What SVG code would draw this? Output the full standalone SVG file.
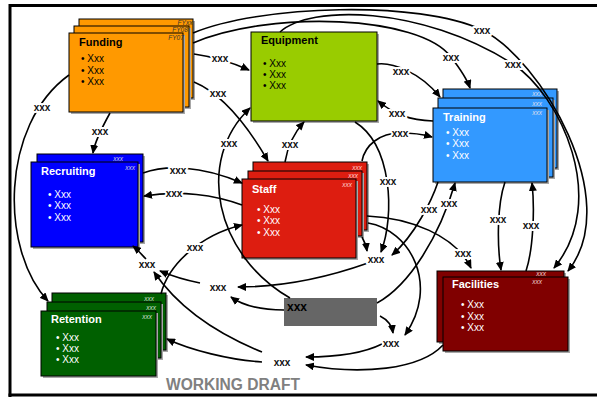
<svg xmlns="http://www.w3.org/2000/svg" width="597" height="398" viewBox="0 0 597 398">
<defs>
<marker id="ah" markerWidth="9" markerHeight="8" refX="8" refY="4" orient="auto" markerUnits="userSpaceOnUse"><path d="M0,0 L9,4 L0,8 z" fill="#000"/></marker>
<style>
.sh{fill:#a8a8a8}
.bx{stroke:#000;stroke-width:1}
.c{fill:none;stroke:#000;stroke-width:1.6;marker-end:url(#ah)}
.lb{font-family:"Liberation Sans",Arial,sans-serif;font-size:10px;font-weight:bold;fill:#111;text-anchor:middle;stroke:#fff;stroke-width:4;paint-order:stroke;stroke-linejoin:round}
.t{font-family:"Liberation Sans",Arial,sans-serif;font-size:11px;font-weight:bold}
.b{font-family:"Liberation Sans",Arial,sans-serif;font-size:10px}
.s{font-family:"Liberation Sans",Arial,sans-serif;font-size:6.5px;font-style:italic;text-anchor:middle}
.w{fill:#fff}
.k{fill:#000}
</style>
</defs>
<rect width="597" height="398" fill="#fff"/>
<g id="frame" fill="none" stroke="#000" stroke-width="3">
<path d="M10,397 V5.5 H597"/>
<path d="M8.5,395 H597"/>
</g>

<g id="funding">
<rect class="sh" x="81" y="21" width="114" height="79"/>
<rect class="bx" x="79" y="19" width="114" height="79" fill="#FF9900"/>
<rect class="sh" x="76" y="28" width="115" height="81"/>
<rect class="bx" x="74" y="26" width="115" height="81" fill="#FF9900"/>
<rect class="sh" x="71" y="35" width="114" height="79"/>
<rect class="bx" x="69" y="33" width="114" height="79" fill="#FF9900"/>
<text class="s" x="185" y="25" fill="#333">FYxx</text>
<text class="s" x="180" y="32" fill="#333">FY08</text>
<text class="s" x="176" y="40" fill="#333">FY07</text>
<text class="t k" x="79" y="46">Funding</text>
<text class="b k" x="81" y="62">• Xxx</text>
<text class="b k" x="81" y="74">• Xxx</text>
<text class="b k" x="81" y="85">• Xxx</text>
</g>

<g id="equipment">
<rect class="sh" x="253" y="34" width="126" height="89"/>
<rect class="bx" x="251" y="32" width="126" height="89" fill="#99CC00"/>
<text class="t k" x="261" y="44">Equipment</text>
<text class="b k" x="263" y="67">• Xxx</text>
<text class="b k" x="263" y="78">• Xxx</text>
<text class="b k" x="263" y="89">• Xxx</text>
</g>

<g id="training">
<rect class="sh" x="445" y="91" width="114" height="79"/>
<rect class="bx" x="443" y="89" width="114" height="79" fill="#3399FF"/>
<rect class="sh" x="440" y="100" width="115" height="79"/>
<rect class="bx" x="438" y="98" width="115" height="79" fill="#3399FF"/>
<rect class="sh" x="435" y="110" width="114" height="74"/>
<rect class="bx" x="433" y="108" width="114" height="74" fill="#3399FF"/>
<text class="s" x="537" y="96" fill="#dde">xxx</text>
<text class="s" x="537" y="106" fill="#dde">xxx</text>
<text class="s" x="537" y="115" fill="#dde">xxx</text>
<text class="t w" x="443" y="121">Training</text>
<text class="b w" x="446" y="136">• Xxx</text>
<text class="b w" x="446" y="147">• Xxx</text>
<text class="b w" x="446" y="159">• Xxx</text>
</g>

<g id="recruiting">
<rect class="sh" x="39" y="156" width="106" height="88"/>
<rect class="bx" x="37" y="154" width="106" height="88" fill="#0000FF"/>
<rect class="sh" x="33" y="164" width="107" height="85"/>
<rect class="bx" x="31" y="162" width="107" height="85" fill="#0000FF"/>
<text class="s" x="118" y="161" fill="#ccd">xxx</text>
<text class="s" x="130" y="170" fill="#ccd">xxx</text>
<text class="t w" x="41" y="175">Recruiting</text>
<text class="b w" x="48" y="198">• Xxx</text>
<text class="b w" x="48" y="209">• Xxx</text>
<text class="b w" x="48" y="221">• Xxx</text>
</g>

<g id="staff">
<rect class="sh" x="255" y="164" width="114" height="68"/>
<rect class="bx" x="253" y="162" width="114" height="68" fill="#DD1D10"/>
<rect class="sh" x="250" y="173" width="114" height="65"/>
<rect class="bx" x="248" y="171" width="114" height="65" fill="#DD1D10"/>
<rect class="sh" x="244" y="181" width="114" height="79"/>
<rect class="bx" x="242" y="179" width="114" height="79" fill="#DD1D10"/>
<text class="s" x="357" y="170" fill="#fcc">xxx</text>
<text class="s" x="353" y="178" fill="#fcc">xxx</text>
<text class="s" x="347" y="187" fill="#fcc">xxx</text>
<text class="t w" x="252" y="193">Staff</text>
<text class="b w" x="257" y="213">• Xxx</text>
<text class="b w" x="257" y="224">• Xxx</text>
<text class="b w" x="257" y="236">• Xxx</text>
</g>

<g id="facilities">
<rect class="sh" x="439" y="273" width="127" height="71"/>
<rect class="bx" x="437" y="271" width="127" height="71" fill="#800000"/>
<rect class="sh" x="445" y="279" width="125" height="74"/>
<rect class="bx" x="443" y="277" width="125" height="74" fill="#800000"/>
<text class="s" x="541" y="276" fill="#ecc">xxx</text>
<text class="s" x="537" y="284" fill="#ecc">xxx</text>
<text class="t w" x="452" y="288">Facilities</text>
<text class="b w" x="461" y="308">• Xxx</text>
<text class="b w" x="461" y="320">• Xxx</text>
<text class="b w" x="461" y="331">• Xxx</text>
</g>

<g id="retention">
<rect class="sh" x="54" y="295" width="114" height="57"/>
<rect class="bx" x="52" y="293" width="114" height="57" fill="#006000"/>
<rect class="sh" x="49" y="304" width="114" height="56"/>
<rect class="bx" x="47" y="302" width="114" height="56" fill="#006000"/>
<rect class="sh" x="43" y="313" width="115" height="65"/>
<rect class="bx" x="41" y="311" width="115" height="65" fill="#006000"/>
<text class="s" x="149" y="301" fill="#cdc">xxx</text>
<text class="s" x="151" y="310" fill="#cdc">xxx</text>
<text class="s" x="147" y="319" fill="#cdc">xxx</text>
<text class="t w" x="51" y="323">Retention</text>
<text class="b w" x="56" y="341">• Xxx</text>
<text class="b w" x="56" y="352">• Xxx</text>
<text class="b w" x="56" y="363">• Xxx</text>
</g>

<g id="graybox">
<rect x="284" y="298" width="93" height="28" fill="#666666"/>
<text x="287" y="311" font-family="'Liberation Sans',Arial,sans-serif" font-size="12" font-weight="bold" fill="#000">xxx</text>
</g>

<g id="connectors">
<path class="c" d="M194,54 Q222,58 249,70"/>
<path class="c" d="M194,82 C225,95 250,130 268,161"/>
<path class="c" d="M110,113 C105,122 95,140 93,153"/>
<path class="c" d="M69,75 C0,125 0,250 48,301"/>
<path class="c" d="M193,33 C260,5 420,0 482,30 C540,58 625,200 568,271"/>
<path class="c" d="M193,43 C270,10 420,15 451,57 C461,70 467,79 470,88"/>
<path class="c" d="M280,32 C310,5 420,5 513,64 C560,95 610,200 554,268"/>
<path class="c" d="M377,64 C392,62 420,72 440,97"/>
<path class="c" d="M433,121 C410,120 395,115 378,101"/>
<path class="c" d="M362,161 C365,145 380,133 400,133 S425,135 432,137"/>
<path class="c" d="M285,162 C287,150 292,135 304,122"/>
<path class="c" d="M290,298 C215,255 195,160 250,108"/>
<path class="c" d="M355,122 C392,145 395,215 381,252"/>
<path class="c" d="M362,237 Q366,244 367,251"/>
<path class="c" d="M438,182 C432,200 415,235 392,255"/>
<path class="c" d="M377,303 C410,285 440,235 455,183"/>
<path class="c" d="M505,182 C497,205 497,245 501,270"/>
<path class="c" d="M526,271 C533,250 535,210 532,183"/>
<path class="c" d="M367,216 C410,218 455,235 471,268"/>
<path class="c" d="M368,223 C410,230 440,285 405,335"/>
<path class="c" d="M380,316 C388,320 392,326 393,333"/>
<path class="c" d="M382,344 C360,355 330,357 306,357"/>
<path class="c" d="M443,345 C420,370 360,375 306,365"/>
<path class="c" d="M262,352 C220,335 180,310 154,272"/>
<path class="c" d="M262,362 C230,360 190,350 167,339"/>
<path class="c" d="M368,263 C320,280 280,287 238,287"/>
<path class="c" d="M284,310 C260,310 242,305 231,297"/>
<path class="c" d="M200,283 C185,280 172,276 160,271"/>
<path class="c" d="M146,259 C142,255 138,250 133,246"/>
<path class="c" d="M161,294 C168,265 200,235 242,225"/>
<path class="c" d="M143,173 C165,165 200,165 242,183"/>
<path class="c" d="M242,205 C215,195 180,190 144,196"/>

<text class="lb" x="220" y="62">xxx</text>
<text class="lb" x="218" y="97">xxx</text>
<text class="lb" x="100" y="135">xxx</text>
<text class="lb" x="42" y="111">xxx</text>
<text class="lb" x="482" y="34">xxx</text>
<text class="lb" x="451" y="61">xxx</text>
<text class="lb" x="513" y="68">xxx</text>
<text class="lb" x="401" y="75">xxx</text>
<text class="lb" x="397" y="117">xxx</text>
<text class="lb" x="400" y="137">xxx</text>
<text class="lb" x="290" y="148">xxx</text>
<text class="lb" x="229" y="147">xxx</text>
<text class="lb" x="388" y="185">xxx</text>
<text class="lb" x="376" y="263">xxx</text>
<text class="lb" x="429" y="213">xxx</text>
<text class="lb" x="449" y="207">xxx</text>
<text class="lb" x="498" y="223">xxx</text>
<text class="lb" x="531" y="229">xxx</text>
<text class="lb" x="463" y="257">xxx</text>
<text class="lb" x="391" y="347">xxx</text>
<text class="lb" x="282" y="366">xxx</text>
<text class="lb" x="147" y="268">xxx</text>
<text class="lb" x="218" y="291">xxx</text>
<text class="lb" x="195" y="251">xxx</text>
<text class="lb" x="178" y="174">xxx</text>
<text class="lb" x="174" y="197">xxx</text>
</g>

<text x="166" y="390" font-family="'Liberation Sans',Arial,sans-serif" font-size="16" font-weight="bold" fill="#808080" textLength="134" lengthAdjust="spacingAndGlyphs">WORKING DRAFT</text>
</svg>
